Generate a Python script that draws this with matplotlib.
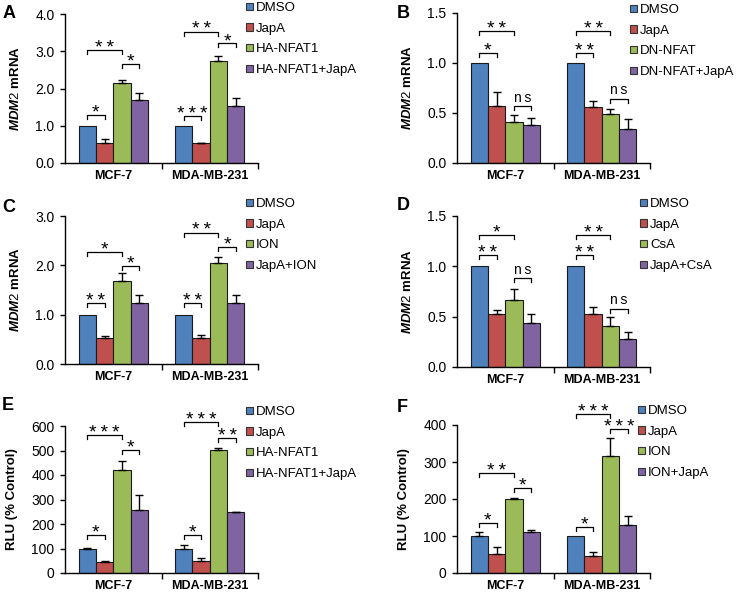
import numpy as np
import matplotlib.pyplot as plt
from matplotlib.patches import Patch

plt.rcParams['font.family'] = ['Liberation Sans', 'DejaVu Sans']
plt.rcParams['mathtext.fontset'] = 'custom'
plt.rcParams['mathtext.it'] = 'Liberation Sans:italic:bold'
plt.rcParams['mathtext.rm'] = 'Liberation Sans'

W, H = 741, 596

cells = ['MCF-7', 'MDA-MB-231']
colors = ['#4F81BD', '#C0504D', '#9BBB59', '#8064A2']

# A
a_labels = ['DMSO', 'JapA', 'HA-NFAT1', 'HA-NFAT1+JapA']
a_mean = [[1.0, 0.55, 2.15, 1.68], [1.0, 0.53, 2.75, 1.53]]
a_err = [[0.0, 0.10, 0.08, 0.20], [0.0, 0.02, 0.12, 0.22]]
a_sig = [(0, 0, 1, 1.29, '*'), (0, 0, 2, 3.03, '**'), (0, 2, 3, 2.66, '*'),
         (1, 0, 1, 1.25, '***'), (1, 0, 2, 3.53, '**'), (1, 2, 3, 3.21, '*')]

# B
b_labels = ['DMSO', 'JapA', 'DN-NFAT', 'DN-NFAT+JapA']
b_mean = [[1.0, 0.57, 0.41, 0.38], [1.0, 0.56, 0.49, 0.34]]
b_err = [[0.0, 0.14, 0.07, 0.075], [0.0, 0.06, 0.055, 0.10]]
b_sig = [(0, 0, 1, 1.10, '*'), (0, 0, 2, 1.32, '**'), (0, 2, 3, 0.57, 'ns'),
         (1, 0, 1, 1.10, '**'), (1, 0, 2, 1.32, '**'), (1, 2, 3, 0.64, 'ns')]

# C
c_labels = ['DMSO', 'JapA', 'ION', 'JapA+ION']
c_mean = [[1.0, 0.53, 1.68, 1.24], [1.0, 0.53, 2.04, 1.24]]
c_err = [[0.0, 0.03, 0.16, 0.16], [0.0, 0.05, 0.12, 0.16]]
c_sig = [(0, 0, 1, 1.23, '**'), (0, 0, 2, 2.27, '*'), (0, 2, 3, 1.99, '*'),
         (1, 0, 1, 1.23, '**'), (1, 0, 2, 2.66, '**'), (1, 2, 3, 2.37, '*')]

# D
d_labels = ['DMSO', 'JapA', 'CsA', 'JapA+CsA']
d_mean = [[1.0, 0.53, 0.67, 0.44], [1.0, 0.53, 0.41, 0.28]]
d_err = [[0.0, 0.04, 0.10, 0.09], [0.0, 0.07, 0.085, 0.07]]
d_sig = [(0, 0, 1, 1.11, '**'), (0, 0, 2, 1.31, '*'), (0, 2, 3, 0.88, 'ns'),
         (1, 0, 1, 1.11, '**'), (1, 0, 2, 1.31, '**'), (1, 2, 3, 0.58, 'ns')]

# E
e_labels = ['DMSO', 'JapA', 'HA-NFAT1', 'HA-NFAT1+JapA']
e_mean = [[100, 43, 420, 258], [100, 48, 502, 247]]
e_err = [[4, 5, 37, 60], [14, 12, 10, 3]]
e_sig = [(0, 0, 1, 154, '*'), (0, 0, 2, 563, '***'), (0, 2, 3, 502, '*'),
         (1, 0, 1, 154, '*'), (1, 0, 2, 615, '***'), (1, 2, 3, 550, '**')]

# F
f_labels = ['DMSO', 'JapA', 'ION', 'ION+JapA']
f_mean = [[100, 52, 201, 110], [100, 45, 316, 129]]
f_err = [[11, 18, 2, 6], [0, 12, 50, 25]]
f_sig = [(0, 0, 1, 135, '*'), (0, 0, 2, 269, '**'), (0, 2, 3, 230, '*'),
         (1, 0, 1, 125, '*'), (1, 0, 2, 430, '***'), (1, 2, 3, 388, '***')]

mdm2 = r'$\mathit{MDM2}$ mRNA'
rlu = 'RLU (% Control)'

fig = plt.figure(figsize=(W / 100, H / 100), dpi=100)
bw = 0.18


def spaced(s):
    return '\u2009'.join(s)


def panel(px, ptop, pbot, letter, labels, mean, err, sig, ymax, ystep, fmt,
          ylabel, labx, leg, letpos):
    ax = fig.add_axes([px / W, 1 - pbot / H, 193 / W, (pbot - ptop) / H])
    for g in range(2):
        for i in range(4):
            x = g + 0.5 + (i - 1.5) * bw
            ax.bar(x, mean[g][i], bw, color=colors[i], edgecolor='#1a1a1a', lw=0.8, zorder=2)
            if err[g][i] > 0:
                ax.errorbar(x, mean[g][i], yerr=[[0], [err[g][i]]], fmt='none',
                            ecolor='black', elinewidth=1, capsize=2.6, capthick=1, zorder=3)
    drop = ymax * 0.027
    for g, i, j, y, txt in sig:
        x1 = g + 0.5 + (i - 1.5) * bw
        x2 = g + 0.5 + (j - 1.5) * bw
        ax.plot([x1, x1, x2, x2], [y - drop, y, y, y - drop], color='black', lw=0.9,
                clip_on=False)
        if txt == 'ns':
            ax.text((x1 + x2) / 2, y + ymax * 0.01, spaced(txt), ha='center', va='bottom',
                    fontsize=10, clip_on=False)
        else:
            ax.text((x1 + x2) / 2, y - ymax * 0.045, spaced(txt), ha='center', va='bottom',
                    fontsize=14, clip_on=False)
    ax.set_xlim(0, 2)
    ax.set_ylim(0, ymax)
    ax.set_yticks(np.arange(0, ymax + ystep / 2, ystep))
    ax.set_yticklabels([fmt.format(v) for v in np.arange(0, ymax + ystep / 2, ystep)], fontsize=10)
    ax.set_xticks([1, 2])
    ax.set_xticklabels([])
    ax.set_xticks([0.5, 1.5], minor=True)
    ax.set_xticklabels(cells, minor=True, fontsize=9, fontweight='bold')
    ax.tick_params(axis='x', which='minor', length=0, pad=5)
    ax.tick_params(axis='x', which='major', length=4, width=1, direction='out')
    ax.tick_params(axis='y', length=3.5, width=1, direction='out', pad=4)
    for s in ['top', 'right']:
        ax.spines[s].set_visible(False)
    for s in ['left', 'bottom']:
        ax.spines[s].set_linewidth(1)
    ax.set_ylabel(ylabel, fontsize=9.5, fontweight='bold')
    ax.yaxis.set_label_coords(labx, 0.5)
    handles = [Patch(facecolor=c, edgecolor='#333333', lw=0.8) for c in colors]
    fig.legend(handles, labels, loc='upper left', bbox_to_anchor=(leg[0] / W, 1 - leg[1] / H),
               frameon=False, fontsize=9.5, handlelength=0.5, handleheight=0.5,
               handletextpad=0.25, labelspacing=0.66, borderpad=0, borderaxespad=0)
    fig.text(letpos[0] / W, 1 - letpos[1] / H, letter, fontsize=13, fontweight='bold',
             ha='left', va='center')
    return ax


panel(65, 14, 163, 'A', a_labels, a_mean, a_err, a_sig, 4.0, 1.0, '{:.1f}',
      mdm2, -0.225, (246, 2), (3, 13))
panel(457, 13, 163, 'B', b_labels, b_mean, b_err, b_sig, 1.5, 0.5, '{:.1f}',
      mdm2, -0.225, (630, 4), (397, 13))
panel(65, 216, 364, 'C', c_labels, c_mean, c_err, c_sig, 3.0, 1.0, '{:.1f}',
      mdm2, -0.225, (246, 198), (2, 207))
panel(457, 216, 367, 'D', d_labels, d_mean, d_err, d_sig, 1.5, 0.5, '{:.1f}',
      mdm2, -0.225, (640, 198), (397, 206))
panel(65, 426, 573, 'E', e_labels, e_mean, e_err, e_sig, 600, 100, '{:.0f}',
      rlu, -0.245, (246, 406), (2, 405))
panel(457, 425, 573, 'F', f_labels, f_mean, f_err, f_sig, 400, 100, '{:.0f}',
      rlu, -0.245, (638, 405), (397, 408))

fig.savefig('out.png', dpi=100)
